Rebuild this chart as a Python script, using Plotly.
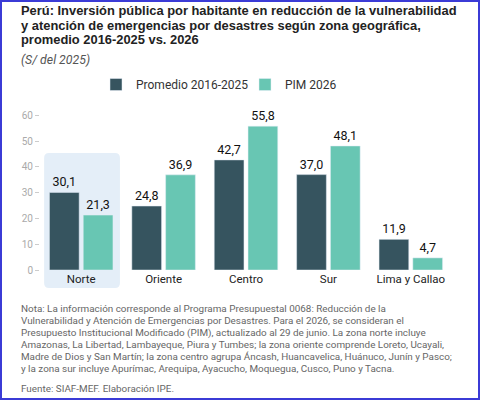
import plotly.graph_objects as go

# datos
zonas = ["Norte", "Oriente", "Centro", "Sur", "Lima y Callao"]
promedio_2016_2025 = [30.1, 24.8, 42.7, 37.0, 11.9]
pim_2026 = [21.3, 36.9, 55.8, 48.1, 4.7]
ticks_y = [0, 10, 20, 30, 40, 50, 60]

titulo = ["Perú: Inversión pública por habitante en reducción de la vulnerabilidad",
          "y atención de emergencias por desastres según zona geográfica,",
          "promedio 2016-2025 vs. 2026"]
subtitulo = "(S/ del 2025)"
nota = ["Nota: La información corresponde al Programa Presupuestal 0068: Reducción de la",
        "Vulnerabilidad y Atención de Emergencias por Desastres. Para el 2026, se consideran el",
        "Presupuesto Institucional Modificado (PIM), actualizado al 29 de junio. La zona norte incluye",
        "Amazonas, La Libertad, Lambayeque, Piura y Tumbes; la zona oriente comprende Loreto, Ucayali,",
        "Madre de Dios y San Martín; la zona centro agrupa Áncash, Huancavelica, Huánuco, Junín y Pasco;",
        "y la zona sur incluye Apurímac, Arequipa, Ayacucho, Moquegua, Cusco, Puno y Tacna."]
fuente = "Fuente: SIAF-MEF. Elaboración IPE."

OSCURO = "#36545f"
VERDE = "#68c6b3"
FUENTE = "Roboto"


def etiqueta(v):
    return "{:.1f}".format(v).replace(".", ",")


W, H = 480, 400
L, R, T, B = 40, 28, 105, 130
YMAX = 64
ph = H - T - B
pw = W - L - R


def py(px):
    # pixel vertical -> coordenada paper
    return (H - B - px) / ph


def pxx(px):
    return (px - L) / pw


def texto(x, y, txt, size, color, weight="normal", style="normal", family=FUENTE):
    fig.add_annotation(xref="paper", yref="paper", x=pxx(x), y=py(y),
                       xanchor="left", yanchor="middle", showarrow=False,
                       text=txt, align="left",
                       font=dict(family=family, size=size, color=color,
                                 weight=weight, style=style))


fig = go.Figure()
fig.add_trace(go.Bar(x=zonas, y=promedio_2016_2025, name="Promedio 2016-2025",
                     marker_color=OSCURO,
                     text=[etiqueta(v) for v in promedio_2016_2025],
                     textposition="outside", cliponaxis=False,
                     textfont=dict(size=12.5, color="#111")))
fig.add_trace(go.Bar(x=zonas, y=pim_2026, name="PIM 2026",
                     marker_color=VERDE,
                     text=[etiqueta(v) for v in pim_2026],
                     textposition="outside", cliponaxis=False,
                     textfont=dict(size=12.5, color="#111")))

# recuadro resaltando la zona norte (esquinas redondeadas)
x0, x1, y0, y1, r = -0.45, 0.47, py(288), py(153), 0.06
ry = 5 / ph
fig.add_shape(type="path", xref="x", yref="paper", layer="below",
              path=(f"M {x0 + r},{y0} L {x1 - r},{y0} Q {x1},{y0} {x1},{y0 + ry} "
                    f"L {x1},{y1 - ry} Q {x1},{y1} {x1 - r},{y1} "
                    f"L {x0 + r},{y1} Q {x0},{y1} {x0},{y1 - ry} "
                    f"L {x0},{y0 + ry} Q {x0},{y0} {x0 + r},{y0} Z"),
              fillcolor="#e4eef8", line_width=0)

# marco azul de la imagen
fig.add_shape(type="rect", xref="paper", yref="paper",
              x0=pxx(1), x1=pxx(W - 1), y0=py(H - 1), y1=py(1),
              line=dict(color="#3b3bd6", width=2))

for i, linea in enumerate(titulo):
    texto(19, 10.5 + i * 14.6, linea, 12.9, "#222", weight="bold",
          family="Liberation Sans")
texto(19, 60, subtitulo, 12.3, "#555", style="italic")
for i, linea in enumerate(nota):
    texto(19, 308.5 + i * 12, linea, 9.9, "#666")
texto(19, 388.5, fuente, 9.9, "#666")

fig.update_layout(
    width=W, height=H,
    margin=dict(l=L, r=R, t=T, b=B),
    paper_bgcolor="white", plot_bgcolor="rgba(0,0,0,0)",
    font=dict(family=FUENTE, color="#222"),
    barmode="group", bargap=0.18, bargroupgap=0.12,
    showlegend=True,
    legend=dict(orientation="h", x=pxx(96), y=py(70), xanchor="left", yanchor="top",
                font=dict(size=12, color="#333"), entrywidth=104,
                entrywidthmode="pixels", traceorder="normal"),
)
fig.update_yaxes(range=[0, YMAX], tickvals=ticks_y, showgrid=False, zeroline=False,
                 showline=False, ticks="outside", ticklen=4, tickcolor="#ccc",
                 tickfont=dict(size=10, color="#aaa"))
fig.update_xaxes(showgrid=False, showline=False, ticks="",
                 tickfont=dict(size=11.5, color="#222"))

fig.write_html("out.html", config={"displayModeBar": False},
               post_script="document.body.style.margin='0';")
